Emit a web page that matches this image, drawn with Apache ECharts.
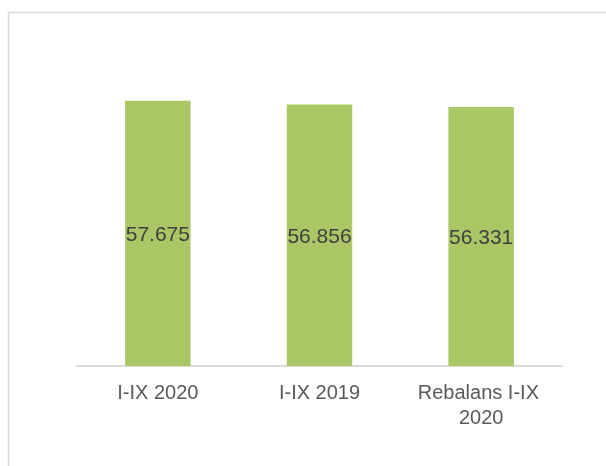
<!DOCTYPE html>
<html>
<head>
<meta charset="utf-8">
<script src="https://cdn.jsdelivr.net/npm/echarts@6/dist/echarts.min.js"></script>
<style>html,body{margin:0;padding:0;background:#fff}#c{width:606px;height:466px}</style>
</head>
<body>
<div id="c"></div>
<script>
var categories = ['I-IX 2020', 'I-IX 2019', 'Rebalans I-IX 2020'];
var values = [57.675, 56.856, 56.331];
var labelTexts = ['57.675', '56.856', '56.331'];

var chart = echarts.init(document.getElementById('c'), null, {renderer: 'canvas'});
chart.setOption({
  animation: false,
  backgroundColor: '#ffffff',
  graphic: [{
    type: 'rect', silent: true,
    shape: {x: 8.5, y: 12.5, width: 800, height: 800},
    style: {fill: 'none', stroke: '#d9d9d9', lineWidth: 1.5}
  }],
  grid: {left: 77, right: 44, top: 44, bottom: 100, containLabel: false},
  xAxis: {
    type: 'category',
    data: categories,
    axisLine: {lineStyle: {color: '#d9d9d9', width: 2}},
    axisTick: {show: false},
    axisLabel: {
      color: '#595959', fontFamily: 'Liberation Sans, Arial, sans-serif', fontSize: 20,
      interval: 0, margin: 15, lineHeight: 25, width: 150, overflow: 'break', align: 'center'
    }
  },
  yAxis: {
    type: 'value', min: 0, max: 70,
    show: false, splitLine: {show: false}
  },
  series: [{
    type: 'bar',
    data: values,
    barCategoryGap: '59.5%',
    itemStyle: {color: '#a9c865'},
    label: {
      show: true, position: 'inside', offset: [0, 2],
      color: '#404040', fontFamily: 'Liberation Sans, Arial, sans-serif', fontSize: 21,
      formatter: function (p) { return labelTexts[p.dataIndex]; }
    }
  }]
});
</script>
</body>
</html>
